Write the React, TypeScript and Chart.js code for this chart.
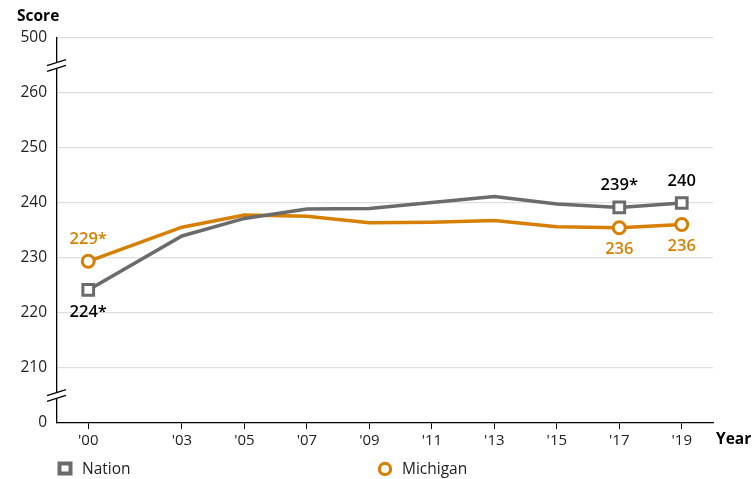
import React, { useEffect, useRef } from "react";
import { Chart, registerables } from "chart.js";

Chart.register(...registerables);

const years = [2000, 2003, 2005, 2007, 2009, 2011, 2013, 2015, 2017, 2019];
const nation = [224.2, 234.0, 237.2, 238.9, 239.0, 240.1, 241.2, 239.8, 239.2, 240.0];
const michigan = [229.4, 235.6, 237.8, 237.6, 236.4, 236.5, 236.8, 235.7, 235.5, 236.1];
const nationLabels = ["224*", "", "", "", "", "", "", "", "239*", "240"];
const michiganLabels = ["229*", "", "", "", "", "", "", "", "236", "236"];
const nationLabelPos = ["below", "", "", "", "", "", "", "", "above", "above"];
const michiganLabelPos = ["above", "", "", "", "", "", "", "", "below", "below"];
const yTicks = [200, 210, 220, 230, 240, 250, 260, 270];
const yTickLabels: Record<number, string> = { 200: "0", 270: "500" };

const GRAY = "#6b6b6b";
const ORANGE = "#d67f00";
const FONT = "'Open Sans', 'Noto Sans', sans-serif";

const overlay = {
  id: "overlay",
  afterDraw(chart: any) {
    const ctx = chart.ctx as CanvasRenderingContext2D;
    const y = chart.scales.y;
    const x = chart.scales.x;
    const ax = x.left;
    ctx.save();
    // axis breaks
    [265, 205].forEach((v) => {
      const py = y.getPixelForValue(v);
      ctx.fillStyle = "#fff";
      ctx.fillRect(ax - 3, py - 3, 6, 6);
      ctx.strokeStyle = "#000";
      ctx.lineWidth = 1.3;
      [-2.8, 2.8].forEach((d) => {
        ctx.beginPath();
        ctx.moveTo(ax - 10, py + d + 3);
        ctx.lineTo(ax + 9, py + d - 3);
        ctx.stroke();
      });
    });
    // axis titles
    ctx.fillStyle = "#000";
    ctx.font = `bold 15.5px ${FONT}`;
    ctx.textBaseline = "middle";
    ctx.textAlign = "left";
    ctx.fillText("Score", 17, 17);
    ctx.fillText("Year", 716, 440);
    // data labels
    const drawLabels = (di: number, labels: string[], pos: string[], color: string) => {
      const meta = chart.getDatasetMeta(di);
      ctx.fillStyle = color;
      ctx.font = `600 16.5px ${FONT}`;
      ctx.textAlign = "center";
      labels.forEach((t, i) => {
        if (!t) return;
        const p = meta.data[i];
        const dy = pos[i] === "above" ? -22 : 22;
        ctx.fillText(t, p.x, p.y + dy);
      });
    };
    drawLabels(0, nationLabels, nationLabelPos, "#000");
    drawLabels(1, michiganLabels, michiganLabelPos, ORANGE);
    // legend
    ctx.font = `15.5px ${FONT}`;
    ctx.textAlign = "left";
    ctx.fillStyle = GRAY;
    ctx.fillRect(57.5, 461.5, 15, 14);
    ctx.fillStyle = "#fff";
    ctx.fillRect(61.5, 465.5, 7, 6);
    ctx.fillStyle = "#222";
    ctx.fillText("Nation", 82, 469.5);
    ctx.strokeStyle = ORANGE;
    ctx.lineWidth = 3.2;
    ctx.beginPath();
    ctx.arc(385, 469, 5.6, 0, Math.PI * 2);
    ctx.stroke();
    ctx.fillStyle = "#222";
    ctx.fillText("Michigan", 402, 469.5);
    ctx.restore();
  },
};

export default function App() {
  const ref = useRef<HTMLCanvasElement | null>(null);
  useEffect(() => {
    if (!ref.current) return;
    const pr = (labels: string[], r: number) => labels.map((t) => (t ? r : 0));
    const chart = new Chart(ref.current, {
      type: "line",
      data: {
        datasets: [
          {
            label: "Nation",
            data: years.map((yr, i) => ({ x: yr, y: nation[i] })),
            borderColor: GRAY,
            backgroundColor: "#fff",
            borderWidth: 3.5,
            pointStyle: "rect",
            pointRadius: pr(nationLabels, 7.6),
            pointBorderWidth: 3,
            pointBorderColor: GRAY,
            pointBackgroundColor: "#fff",
            tension: 0,
          },
          {
            label: "Michigan",
            data: years.map((yr, i) => ({ x: yr, y: michigan[i] })),
            borderColor: ORANGE,
            backgroundColor: "#fff",
            borderWidth: 3.5,
            pointStyle: "circle",
            pointRadius: pr(michiganLabels, 6),
            pointBorderWidth: 3,
            pointBorderColor: ORANGE,
            pointBackgroundColor: "#fff",
            tension: 0,
          },
        ],
      },
      options: {
        responsive: false,
        animation: false,
        layout: { padding: { top: 38, right: 41, left: 0, bottom: 0 } },
        plugins: { legend: { display: false }, tooltip: { enabled: false } },
        scales: {
          x: {
            type: "linear",
            min: 1999,
            max: 2020,
            afterBuildTicks: (s: any) => {
              s.ticks = years.map((v) => ({ value: v }));
            },
            afterFit: (s: any) => {
              s.height = 56;
            },
            ticks: {
              callback: (v: any) => "'" + String(v).slice(2),
              font: { family: FONT, size: 15 },
              color: "#222",
              padding: 3,
              maxRotation: 0,
              autoSkip: false,
            },
            grid: { drawOnChartArea: false, drawTicks: true, tickLength: 6, color: "#000" },
            border: { color: "#000", width: 1.3 },
          },
          y: {
            type: "linear",
            min: 200,
            max: 270,
            afterBuildTicks: (s: any) => {
              s.ticks = yTicks.map((v) => ({ value: v }));
            },
            afterFit: (s: any) => {
              s.width = 57;
            },
            ticks: {
              callback: (v: any) => yTickLabels[v] ?? String(v),
              font: { family: FONT, size: 15.5 },
              color: "#222",
              padding: 10,
            },
            grid: {
              drawTicks: false,
              color: (c: any) => (c.tick && c.tick.value === 200 ? "rgba(0,0,0,0)" : "#dedede"),
              lineWidth: 1.3,
            },
            border: { color: "#000", width: 1.3 },
          },
        },
      },
      plugins: [overlay],
    });
    return () => chart.destroy();
  }, []);
  return (
    <div style={{ position: "fixed", left: 0, top: 0, width: 754, height: 479, background: "#fff" }}>
      <canvas ref={ref} width={754} height={479} style={{ width: 754, height: 479 }} />
    </div>
  );
}
